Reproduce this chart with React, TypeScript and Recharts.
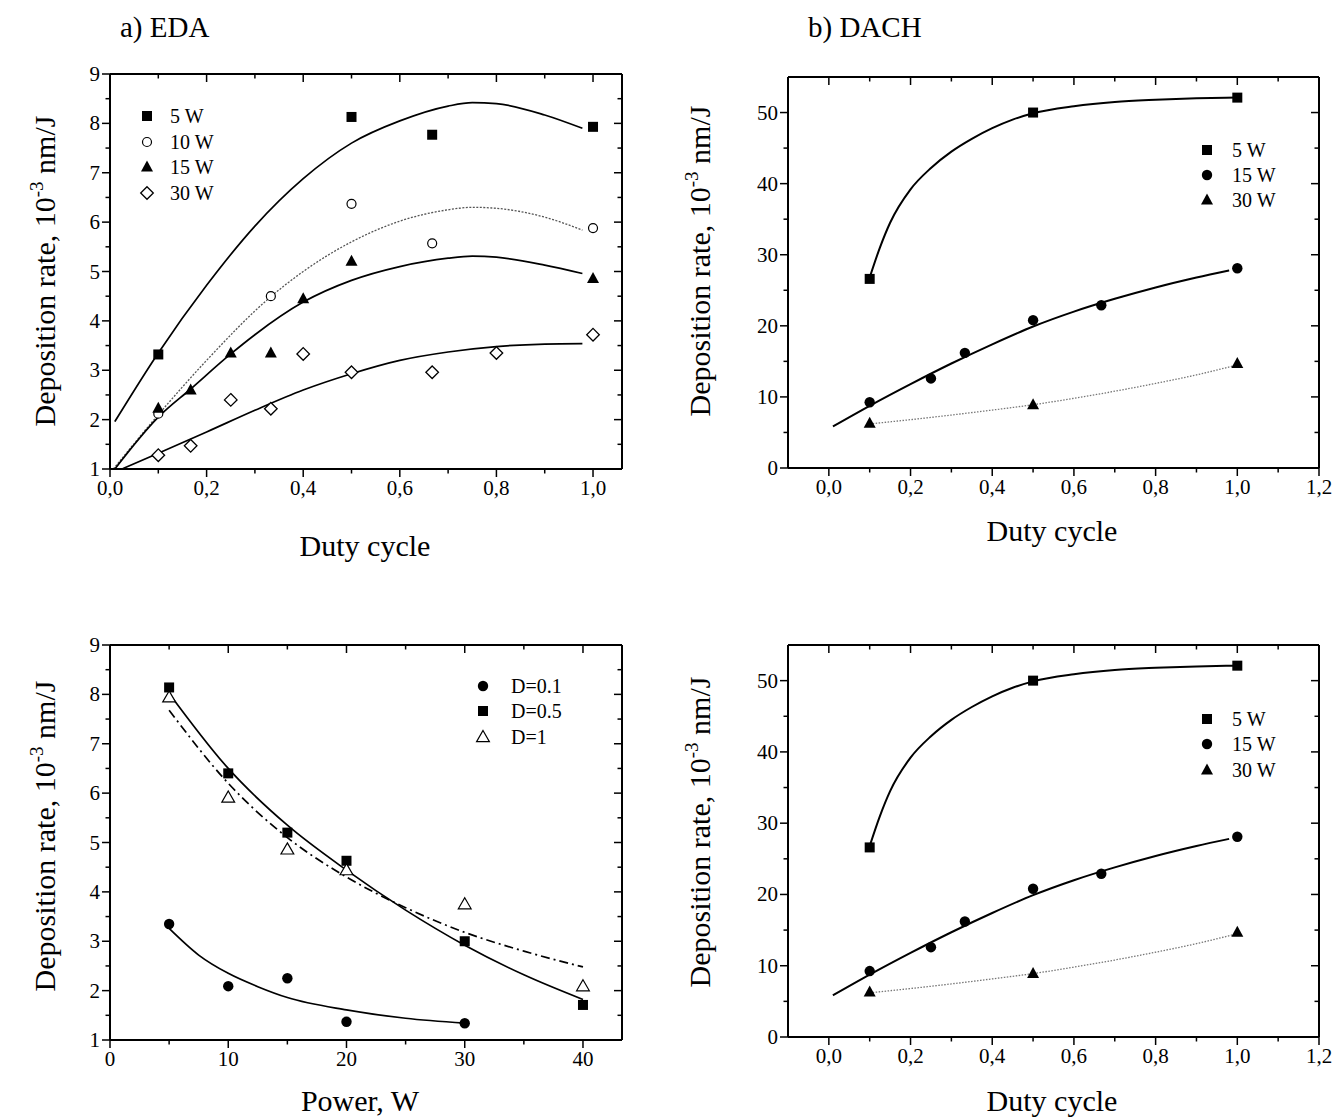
import React from 'react';
import { ComposedChart, XAxis, YAxis, Line, Scatter, Legend, Label } from 'recharts';

type Pt = { x: number; y: number };
type MarkerKind = 'square' | 'circleOpen' | 'circle' | 'triangle' | 'triangleOpen' | 'diamondOpen';

const FONT = "'Liberation Serif', 'Times New Roman', Times, serif";

// ===== a) EDA : deposition rate vs duty cycle (measured points) =====
const eda5W: Pt[] = [{ x: 0.1, y: 3.32 }, { x: 0.5, y: 8.13 }, { x: 0.667, y: 7.77 }, { x: 1.0, y: 7.93 }];
const eda10W: Pt[] = [{ x: 0.1, y: 2.12 }, { x: 0.333, y: 4.5 }, { x: 0.5, y: 6.37 }, { x: 0.667, y: 5.57 }, { x: 1.0, y: 5.88 }];
const eda15W: Pt[] = [{ x: 0.1, y: 2.23 }, { x: 0.167, y: 2.6 }, { x: 0.25, y: 3.35 }, { x: 0.333, y: 3.35 }, { x: 0.4, y: 4.45 }, { x: 0.5, y: 5.21 }, { x: 1.0, y: 4.86 }];
const eda30W: Pt[] = [{ x: 0.1, y: 1.28 }, { x: 0.167, y: 1.47 }, { x: 0.25, y: 2.4 }, { x: 0.333, y: 2.22 }, { x: 0.4, y: 3.33 }, { x: 0.5, y: 2.96 }, { x: 0.667, y: 2.96 }, { x: 0.8, y: 3.35 }, { x: 1.0, y: 3.72 }];
// fitted curves
const edaFit5W: Pt[] = [{ x: 0.01, y: 1.96 }, { x: 0.1, y: 3.35 }, { x: 0.2, y: 4.72 }, { x: 0.3, y: 5.92 }, { x: 0.4, y: 6.88 }, { x: 0.5, y: 7.6 }, { x: 0.6, y: 8.05 }, { x: 0.7, y: 8.35 }, { x: 0.75, y: 8.42 }, { x: 0.8, y: 8.4 }, { x: 0.9, y: 8.17 }, { x: 0.978, y: 7.9 }];
const edaFit10W: Pt[] = [{ x: 0.007, y: 1.0 }, { x: 0.1, y: 2.1 }, { x: 0.2, y: 3.2 }, { x: 0.333, y: 4.49 }, { x: 0.4, y: 5.0 }, { x: 0.5, y: 5.6 }, { x: 0.6, y: 6.02 }, { x: 0.7, y: 6.25 }, { x: 0.75, y: 6.3 }, { x: 0.8, y: 6.28 }, { x: 0.9, y: 6.1 }, { x: 0.978, y: 5.84 }];
const edaFit15W: Pt[] = [{ x: 0.01, y: 1.0 }, { x: 0.1, y: 2.05 }, { x: 0.167, y: 2.62 }, { x: 0.25, y: 3.33 }, { x: 0.3, y: 3.72 }, { x: 0.4, y: 4.38 }, { x: 0.5, y: 4.82 }, { x: 0.6, y: 5.1 }, { x: 0.7, y: 5.27 }, { x: 0.75, y: 5.31 }, { x: 0.8, y: 5.29 }, { x: 0.9, y: 5.13 }, { x: 0.978, y: 4.96 }];
const edaFit30W: Pt[] = [{ x: 0.025, y: 1.0 }, { x: 0.1, y: 1.32 }, { x: 0.2, y: 1.75 }, { x: 0.3, y: 2.19 }, { x: 0.4, y: 2.6 }, { x: 0.5, y: 2.93 }, { x: 0.6, y: 3.2 }, { x: 0.7, y: 3.37 }, { x: 0.8, y: 3.48 }, { x: 0.9, y: 3.53 }, { x: 0.978, y: 3.54 }];

// ===== b) DACH : deposition rate vs duty cycle =====
const dach5W: Pt[] = [{ x: 0.1, y: 26.6 }, { x: 0.5, y: 50.0 }, { x: 1.0, y: 52.1 }];
const dach15W: Pt[] = [{ x: 0.1, y: 9.25 }, { x: 0.25, y: 12.6 }, { x: 0.333, y: 16.2 }, { x: 0.5, y: 20.8 }, { x: 0.667, y: 22.9 }, { x: 1.0, y: 28.1 }];
const dach30W: Pt[] = [{ x: 0.1, y: 6.3 }, { x: 0.5, y: 8.9 }, { x: 1.0, y: 14.7 }];
const dachFit5W: Pt[] = [{ x: 0.1, y: 26.8 }, { x: 0.125, y: 31.0 }, { x: 0.15, y: 34.5 }, { x: 0.2, y: 39.2 }, { x: 0.25, y: 42.2 }, { x: 0.3, y: 44.5 }, { x: 0.35, y: 46.3 }, { x: 0.4, y: 47.8 }, { x: 0.45, y: 49.0 }, { x: 0.5, y: 49.9 }, { x: 0.6, y: 50.9 }, { x: 0.7, y: 51.5 }, { x: 0.8, y: 51.8 }, { x: 0.9, y: 52.0 }, { x: 1.0, y: 52.1 }];
const dachFit15W: Pt[] = [{ x: 0.01, y: 5.85 }, { x: 0.1, y: 8.75 }, { x: 0.2, y: 11.8 }, { x: 0.3, y: 14.7 }, { x: 0.4, y: 17.4 }, { x: 0.5, y: 19.9 }, { x: 0.6, y: 22.0 }, { x: 0.7, y: 23.8 }, { x: 0.8, y: 25.4 }, { x: 0.9, y: 26.8 }, { x: 0.98, y: 27.8 }];
const dachFit30W: Pt[] = [{ x: 0.1, y: 6.2 }, { x: 0.2, y: 6.8 }, { x: 0.3, y: 7.45 }, { x: 0.4, y: 8.15 }, { x: 0.5, y: 8.9 }, { x: 0.6, y: 9.8 }, { x: 0.7, y: 10.8 }, { x: 0.8, y: 11.9 }, { x: 0.9, y: 13.1 }, { x: 1.0, y: 14.5 }];

// ===== EDA : deposition rate vs power =====
const powD01: Pt[] = [{ x: 5, y: 3.35 }, { x: 10, y: 2.09 }, { x: 15, y: 2.25 }, { x: 20, y: 1.37 }, { x: 30, y: 1.34 }];
const powD05: Pt[] = [{ x: 5, y: 8.14 }, { x: 10, y: 6.4 }, { x: 15, y: 5.2 }, { x: 20, y: 4.63 }, { x: 30, y: 3.0 }, { x: 40, y: 1.71 }];
const powD1: Pt[] = [{ x: 5, y: 7.94 }, { x: 10, y: 5.91 }, { x: 15, y: 4.86 }, { x: 20, y: 4.44 }, { x: 30, y: 3.75 }, { x: 40, y: 2.09 }];
const powFitD01: Pt[] = [{ x: 5, y: 3.26 }, { x: 7.5, y: 2.72 }, { x: 10, y: 2.35 }, { x: 12.5, y: 2.08 }, { x: 15, y: 1.86 }, { x: 20, y: 1.61 }, { x: 25, y: 1.44 }, { x: 30, y: 1.34 }];
const powFitD05: Pt[] = [{ x: 5, y: 8.02 }, { x: 10, y: 6.5 }, { x: 15, y: 5.35 }, { x: 20, y: 4.44 }, { x: 25, y: 3.63 }, { x: 30, y: 2.92 }, { x: 35, y: 2.32 }, { x: 40, y: 1.82 }];
const powFitD1: Pt[] = [{ x: 5, y: 7.68 }, { x: 10, y: 6.2 }, { x: 15, y: 5.1 }, { x: 20, y: 4.3 }, { x: 25, y: 3.68 }, { x: 30, y: 3.18 }, { x: 35, y: 2.8 }, { x: 40, y: 2.48 }];

// ===== ticks =====
const dutyTicksA = [0, 0.1, 0.2, 0.3, 0.4, 0.5, 0.6, 0.7, 0.8, 0.9, 1.0];
const dutyMajorA = [0, 0.2, 0.4, 0.6, 0.8, 1.0];
const dutyTicksB = [0, 0.1, 0.2, 0.3, 0.4, 0.5, 0.6, 0.7, 0.8, 0.9, 1.0, 1.1, 1.2];
const dutyMajorB = [0, 0.2, 0.4, 0.6, 0.8, 1.0, 1.2];
const rateTicksA = [1, 1.5, 2, 2.5, 3, 3.5, 4, 4.5, 5, 5.5, 6, 6.5, 7, 7.5, 8, 8.5, 9];
const rateMajorA = [1, 2, 3, 4, 5, 6, 7, 8, 9];
const rateTicksB = [0, 5, 10, 15, 20, 25, 30, 35, 40, 45, 50];
const rateMajorB = [0, 10, 20, 30, 40, 50];
const powerTicks = [0, 5, 10, 15, 20, 25, 30, 35, 40];
const powerMajor = [0, 10, 20, 30, 40];

const legendEDA = [
  { name: '5 W', marker: 'square' as MarkerKind },
  { name: '10 W', marker: 'circleOpen' as MarkerKind },
  { name: '15 W', marker: 'triangle' as MarkerKind },
  { name: '30 W', marker: 'diamondOpen' as MarkerKind },
];
const legendDACH = [
  { name: '5 W', marker: 'square' as MarkerKind },
  { name: '15 W', marker: 'circle' as MarkerKind },
  { name: '30 W', marker: 'triangle' as MarkerKind },
];
const legendPower = [
  { name: 'D=0.1', marker: 'circle' as MarkerKind },
  { name: 'D=0.5', marker: 'square' as MarkerKind },
  { name: 'D=1', marker: 'triangleOpen' as MarkerKind },
];

const commaFmt = (v: number) => v.toFixed(1).replace('.', ',');
const intFmt = (v: number) => String(Math.round(v));

const TICK_FS = 21;
const TITLE_FS = 30;

function Marker({ kind, cx, cy }: { kind: MarkerKind; cx: number; cy: number }) {
  switch (kind) {
    case 'square':
      return <rect x={cx - 5} y={cy - 5} width={10} height={10} fill="#000" />;
    case 'circleOpen':
      return <circle cx={cx} cy={cy} r={4.5} fill="#fff" stroke="#000" strokeWidth={1.2} />;
    case 'circle':
      return <circle cx={cx} cy={cy} r={5.2} fill="#000" />;
    case 'triangle':
      return <polygon points={`${cx},${cy - 6.5} ${cx + 6},${cy + 4.5} ${cx - 6},${cy + 4.5}`} fill="#000" />;
    case 'triangleOpen':
      return <polygon points={`${cx},${cy - 6.5} ${cx + 6.4},${cy + 4.6} ${cx - 6.4},${cy + 4.6}`} fill="#fff" stroke="#000" strokeWidth={1.2} />;
    case 'diamondOpen':
    default:
      return <polygon points={`${cx},${cy - 6.3} ${cx + 6.3},${cy} ${cx},${cy + 6.3} ${cx - 6.3},${cy}`} fill="#fff" stroke="#000" strokeWidth={1.3} />;
  }
}

function makeTick(side: 'bottom' | 'top' | 'left' | 'right', majors: number[], fmt?: (v: number) => string) {
  return (props: any) => {
    const { x, y, payload } = props;
    const v = Number(payload.value);
    const major = majors.some((m) => Math.abs(m - v) < 1e-6);
    const len = major ? 8 : 4.5;
    const st = { stroke: '#000', strokeWidth: 1.5 };
    if (side === 'bottom') {
      return (
        <g>
          <line x1={x} y1={y} x2={x} y2={y + len} {...st} />
          {major && fmt ? (
            <text x={x} y={y + 26} textAnchor="middle" fontFamily={FONT} fontSize={TICK_FS} fill="#000">{fmt(v)}</text>
          ) : null}
        </g>
      );
    }
    if (side === 'top') {
      return <g><line x1={x} y1={y} x2={x} y2={y + len} {...st} /></g>;
    }
    if (side === 'left') {
      return (
        <g>
          <line x1={x} y1={y} x2={x - len} y2={y} {...st} />
          {major && fmt ? (
            <text x={x - 10} y={y + 7} textAnchor="end" fontFamily={FONT} fontSize={TICK_FS} fill="#000">{fmt(v)}</text>
          ) : null}
        </g>
      );
    }
    return <g><line x1={x} y1={y} x2={x - len} y2={y} {...st} /></g>;
  };
}

type Series = { name: string; data: Pt[]; marker: MarkerKind };
type Curve = { data: Pt[]; stroke: string; width: number; dash?: string };

interface PanelCfg {
  left: number; top: number; width: number; height: number;
  margin: { top: number; right: number; bottom: number; left: number };
  yAxisWidth: number; xAxisHeight: number;
  xDomain: [number, number]; yDomain: [number, number];
  xTicks: number[]; xMajor: number[]; yTicks: number[]; yMajor: number[];
  xFmt: (v: number) => string; yFmt: (v: number) => string;
  xTitle: string; xTitlePos: [number, number]; yTitlePos: [number, number];
  points: Series[]; curves: Curve[];
  legend: { items: { name: string; marker: MarkerKind }[]; mx: number; tx: number; ys: number[] };
}

const AXIS = { stroke: '#000', strokeWidth: 2 };

function LegendBox({ cfg }: { cfg: PanelCfg['legend'] }) {
  const L = cfg.mx - 15;
  const T = cfg.ys[0] - 15;
  return (
    <svg width={150} height={cfg.ys[cfg.ys.length - 1] - cfg.ys[0] + 30} style={{ display: 'block' }}>
      {cfg.items.map((it, i) => (
        <g key={it.name}>
          <Marker kind={it.marker} cx={15} cy={cfg.ys[i] - T} />
          <text x={cfg.tx - L} y={cfg.ys[i] - T + 7} fontFamily={FONT} fontSize={20} fill="#000">{it.name}</text>
        </g>
      ))}
    </svg>
  );
}

function Panel({ c }: { c: PanelCfg }) {
  const [xtX, xtY] = c.xTitlePos;
  const [ytX, ytY] = c.yTitlePos;
  return (
    <div style={{ position: 'absolute', left: c.left, top: c.top }}>
      <ComposedChart width={c.width} height={c.height} margin={c.margin}>
        <XAxis xAxisId="b" dataKey="x" type="number" domain={c.xDomain} ticks={c.xTicks} interval={0}
          allowDataOverflow tickSize={0} tickMargin={0} height={c.xAxisHeight} axisLine={AXIS} tickLine={false}
          tick={makeTick('bottom', c.xMajor, c.xFmt)}>
          <Label content={() => (
            <text x={xtX} y={xtY} textAnchor="middle" fontFamily={FONT} fontSize={TITLE_FS} fill="#000">{c.xTitle}</text>
          )} />
        </XAxis>
        <XAxis xAxisId="t" orientation="top" mirror dataKey="x" type="number" domain={c.xDomain} ticks={c.xTicks}
          interval={0} allowDataOverflow tickSize={0} tickMargin={0} height={1} axisLine={AXIS} tickLine={false}
          tick={makeTick('top', c.xMajor)} />
        <YAxis yAxisId="l" dataKey="y" type="number" domain={c.yDomain} ticks={c.yTicks} interval={0}
          allowDataOverflow tickSize={0} tickMargin={0} width={c.yAxisWidth} axisLine={AXIS} tickLine={false}
          tick={makeTick('left', c.yMajor, c.yFmt)}>
          <Label content={() => (
            <text x={ytX} y={ytY} transform={`rotate(-90, ${ytX}, ${ytY})`} textAnchor="middle" fontFamily={FONT} fontSize={TITLE_FS} fill="#000">
              Deposition rate, 10<tspan dy={-12} fontSize={19}>-3</tspan><tspan dy={12}>{' nm/J'}</tspan>
            </text>
          )} />
        </YAxis>
        <YAxis yAxisId="r" orientation="right" mirror dataKey="y" type="number" domain={c.yDomain} ticks={c.yTicks}
          interval={0} allowDataOverflow tickSize={0} tickMargin={0} width={1} axisLine={AXIS} tickLine={false}
          tick={makeTick('right', c.yMajor)} />
        {c.curves.map((cv, i) => (
          <Line key={'c' + i} xAxisId="b" yAxisId="l" data={cv.data} dataKey="y" type="monotone"
            stroke={cv.stroke} strokeWidth={cv.width} strokeDasharray={cv.dash} dot={false} activeDot={false}
            isAnimationActive={false} legendType="none" />
        ))}
        {c.points.map((s) => (
          <Scatter key={s.name} name={s.name} xAxisId="b" yAxisId="l" data={s.data} dataKey="y"
            isAnimationActive={false}
            shape={(p: any) => <Marker kind={s.marker} cx={p.cx} cy={p.cy} />} />
        ))}
        <Legend layout="vertical" align="center" verticalAlign="middle"
          wrapperStyle={{ left: c.legend.mx - 15, top: c.legend.ys[0] - 15, width: 'auto', height: 'auto' }}
          content={() => <LegendBox cfg={c.legend} />} />
      </ComposedChart>
    </div>
  );
}

const panelTL: PanelCfg = {
  left: 0, top: 0, width: 660, height: 580,
  margin: { top: 74, right: 38, bottom: 11, left: 10 }, yAxisWidth: 100, xAxisHeight: 100,
  xDomain: [0, 1.06], yDomain: [1, 9],
  xTicks: dutyTicksA, xMajor: dutyMajorA, yTicks: rateTicksA, yMajor: rateMajorA,
  xFmt: commaFmt, yFmt: intFmt,
  xTitle: 'Duty cycle', xTitlePos: [365, 556], yTitlePos: [55, 271],
  points: [
    { name: '5 W', data: eda5W, marker: 'square' },
    { name: '10 W', data: eda10W, marker: 'circleOpen' },
    { name: '15 W', data: eda15W, marker: 'triangle' },
    { name: '30 W', data: eda30W, marker: 'diamondOpen' },
  ],
  curves: [
    { data: edaFit5W, stroke: '#000', width: 1.7 },
    { data: edaFit10W, stroke: '#555', width: 1.3, dash: '2 1.5' },
    { data: edaFit15W, stroke: '#000', width: 1.7 },
    { data: edaFit30W, stroke: '#000', width: 1.7 },
  ],
  legend: { items: legendEDA, mx: 147, tx: 170, ys: [116, 142, 167, 193] },
};

const dachPoints: Series[] = [
  { name: '5 W', data: dach5W, marker: 'square' },
  { name: '15 W', data: dach15W, marker: 'circle' },
  { name: '30 W', data: dach30W, marker: 'triangle' },
];
const dachCurves: Curve[] = [
  { data: dachFit5W, stroke: '#000', width: 2 },
  { data: dachFit15W, stroke: '#000', width: 2 },
  { data: dachFit30W, stroke: '#777', width: 1.3, dash: '1.5 1.5' },
];

const panelTR: PanelCfg = {
  left: 660, top: 0, width: 672, height: 580,
  margin: { top: 77, right: 13, bottom: 12, left: 10 }, yAxisWidth: 118, xAxisHeight: 100,
  xDomain: [-0.1, 1.2], yDomain: [0, 55],
  xTicks: dutyTicksB, xMajor: dutyMajorB, yTicks: rateTicksB, yMajor: rateMajorB,
  xFmt: commaFmt, yFmt: intFmt,
  xTitle: 'Duty cycle', xTitlePos: [392, 541], yTitlePos: [50, 261],
  points: dachPoints, curves: dachCurves,
  legend: { items: legendDACH, mx: 547, tx: 572, ys: [150, 175, 200] },
};

const panelBL: PanelCfg = {
  left: 0, top: 580, width: 660, height: 537,
  margin: { top: 65, right: 38, bottom: 7, left: 10 }, yAxisWidth: 100, xAxisHeight: 70,
  xDomain: [0, 43.3], yDomain: [1, 9],
  xTicks: powerTicks, xMajor: powerMajor, yTicks: rateTicksA, yMajor: rateMajorA,
  xFmt: intFmt, yFmt: intFmt,
  xTitle: 'Power, W', xTitlePos: [360, 531], yTitlePos: [55, 256],
  points: [
    { name: 'D=0.1', data: powD01, marker: 'circle' },
    { name: 'D=0.5', data: powD05, marker: 'square' },
    { name: 'D=1', data: powD1, marker: 'triangleOpen' },
  ],
  curves: [
    { data: powFitD01, stroke: '#000', width: 1.7 },
    { data: powFitD05, stroke: '#000', width: 1.7 },
    { data: powFitD1, stroke: '#000', width: 1.7, dash: '9 4 2 4' },
  ],
  legend: { items: legendPower, mx: 483, tx: 511, ys: [106, 131, 157] },
};

const panelBR: PanelCfg = {
  left: 660, top: 580, width: 672, height: 537,
  margin: { top: 65, right: 13, bottom: 10, left: 10 }, yAxisWidth: 118, xAxisHeight: 70,
  xDomain: [-0.1, 1.2], yDomain: [0, 55],
  xTicks: dutyTicksB, xMajor: dutyMajorB, yTicks: rateTicksB, yMajor: rateMajorB,
  xFmt: commaFmt, yFmt: intFmt,
  xTitle: 'Duty cycle', xTitlePos: [392, 531], yTitlePos: [50, 252],
  points: dachPoints, curves: dachCurves,
  legend: { items: legendDACH, mx: 547, tx: 572, ys: [139, 164, 190] },
};

export default function App() {
  return (
    <div style={{ position: 'absolute', left: 0, top: 0, width: 1332, height: 1117, background: '#fff', overflow: 'hidden' }}>
      <svg width={1332} height={60} style={{ position: 'absolute', left: 0, top: 0 }}>
        <text x={120} y={37} fontFamily={FONT} fontSize={29} fill="#000">a) EDA</text>
        <text x={808} y={37} fontFamily={FONT} fontSize={29} fill="#000">b) DACH</text>
      </svg>
      <Panel c={panelTL} />
      <Panel c={panelTR} />
      <Panel c={panelBL} />
      <Panel c={panelBR} />
    </div>
  );
}
